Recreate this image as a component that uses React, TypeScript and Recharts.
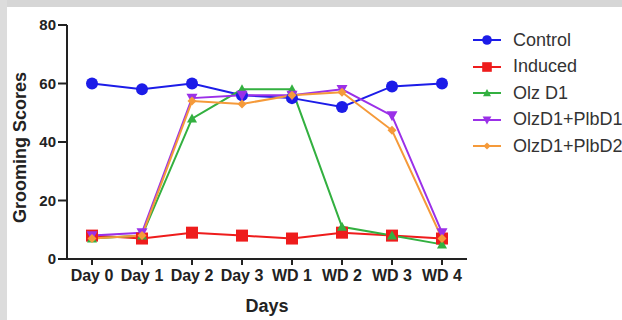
import React from 'react';
import { LineChart, Line, XAxis, YAxis } from 'recharts';

const days = ['Day 0', 'Day 1', 'Day 2', 'Day 3', 'WD 1', 'WD 2', 'WD 3', 'WD 4'];
const control = [60, 58, 60, 56, 55, 52, 59, 60];
const induced = [8, 7, 9, 8, 7, 9, 8, 7];
const olzD1 = [7, 8, 48, 58, 58, 11, 8, 5];
const olzPlbD1 = [8, 9, 55, 56, 56, 58, 49, 9];
const olzPlbD2 = [7, 8, 54, 53, 56, 57, 44, 7];
const yTicks = [0, 20, 40, 60, 80];

const data = days.map((day, i) => ({
  day,
  control: control[i],
  induced: induced[i],
  olzD1: olzD1[i],
  olzPlbD1: olzPlbD1[i],
  olzPlbD2: olzPlbD2[i],
}));

const SERIES = [
  { key: 'control', name: 'Control', color: '#1c1ce8', shape: 'circle' },
  { key: 'induced', name: 'Induced', color: '#ee1c1c', shape: 'square' },
  { key: 'olzD1', name: 'Olz D1', color: '#33b040', shape: 'triUp' },
  { key: 'olzPlbD1', name: 'OlzD1+PlbD1', color: '#9b30e8', shape: 'triDown' },
  { key: 'olzPlbD2', name: 'OlzD1+PlbD2', color: '#f59a3a', shape: 'diamond' },
];

const FONT = '"Liberation Sans", Arial, sans-serif';

function Marker({ cx, cy, shape, color, scale = 1 }: any) {
  if (cx == null || cy == null) return null;
  if (shape === 'circle') return <circle cx={cx} cy={cy} r={6 * scale} fill={color} />;
  if (shape === 'square') {
    const s = 6 * scale;
    return <rect x={cx - s} y={cy - s} width={s * 2} height={s * 2} fill={color} />;
  }
  if (shape === 'triUp') {
    const s = 5 * scale;
    return <polygon points={`${cx},${cy - s} ${cx + s},${cy + s * 0.8} ${cx - s},${cy + s * 0.8}`} fill={color} />;
  }
  if (shape === 'triDown') {
    const s = 5.5 * scale;
    return <polygon points={`${cx - s},${cy - s * 0.8} ${cx + s},${cy - s * 0.8} ${cx},${cy + s}`} fill={color} />;
  }
  const s = 4.5 * scale;
  return <polygon points={`${cx},${cy - s} ${cx + s},${cy} ${cx},${cy + s} ${cx - s},${cy}`} fill={color} />;
}

// legend drawn beside the plot so it does not take space from it
function LegendBox() {
  return (
    <div style={{ position: 'absolute', left: 471, top: 27, fontFamily: FONT, fontSize: 18, color: '#333' }}>
      {SERIES.map((s) => (
        <div key={s.key} style={{ display: 'flex', alignItems: 'center', height: 26.5, whiteSpace: 'nowrap' }}>
          <svg width={32} height={14} style={{ marginRight: 10 }}>
            <line x1={2} y1={7} x2={30} y2={7} stroke={s.color} strokeWidth={2} />
            <Marker cx={16} cy={7} shape={s.shape} color={s.color} scale={0.8} />
          </svg>
          <span>{s.name}</span>
        </div>
      ))}
    </div>
  );
}

export default function App() {
  return (
    <div style={{ position: 'absolute', left: 0, top: 0, width: 622, height: 320, background: '#fff', overflow: 'hidden' }}>
      <div style={{ position: 'absolute', left: 0, top: 0, width: 622, height: 7, background: '#d6d6d6' }} />
      <div style={{ position: 'absolute', left: 0, top: 0, width: 7, height: 320, background: '#dcdcdc' }} />
      <LineChart width={622} height={320} data={data} margin={{ top: 25, right: 155, bottom: 21, left: 0 }}>
        <XAxis
          dataKey="day"
          padding={{ left: 25, right: 25 }}
          axisLine={{ stroke: '#222', strokeWidth: 2 }}
          tickLine={{ stroke: '#222', strokeWidth: 2 }}
          tickSize={6}
          height={40}
          interval={0}
          tick={{ fill: '#222', fontSize: 16, fontWeight: 700, fontFamily: FONT, dy: 3 }}
          label={{ value: 'Days', position: 'insideBottom', offset: -13, fill: '#222', fontSize: 18, fontWeight: 700, fontFamily: FONT }}
        />
        <YAxis
          domain={[0, 80]}
          ticks={yTicks}
          width={67}
          axisLine={{ stroke: '#222', strokeWidth: 2 }}
          tickLine={{ stroke: '#222', strokeWidth: 2 }}
          tickSize={9}
          tick={{ fill: '#222', fontSize: 15, fontWeight: 700, fontFamily: FONT }}
          label={{ value: 'Grooming Scores', angle: -90, position: 'insideLeft', offset: 20, dy: 81, fill: '#222', fontSize: 18, fontWeight: 700, fontFamily: FONT }}
        />
        {SERIES.map((s) => (
          <Line
            key={s.key}
            dataKey={s.key}
            name={s.name}
            stroke={s.color}
            strokeWidth={2}
            isAnimationActive={false}
            dot={(p: any) => <Marker key={`${s.key}-${p.index}`} cx={p.cx} cy={p.cy} shape={s.shape} color={s.color} />}
            activeDot={false}
          />
        ))}
      </LineChart>
      <LegendBox />
    </div>
  );
}
